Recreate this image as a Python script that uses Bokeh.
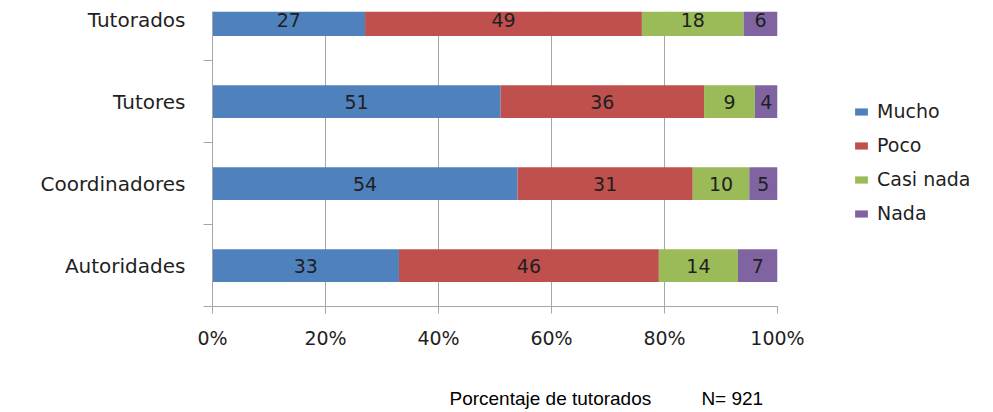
import numpy as np
from bokeh.plotting import figure
from bokeh.models import (ColumnDataSource, FixedTicker, PrintfTickFormatter, Legend,
                          LegendItem, Range1d, LinearAxis)
from bokeh.core.properties import value
from bokeh.embed import file_html
from bokeh.resources import INLINE

categories = ["Tutorados", "Tutores", "Coordinadores", "Autoridades"]
series_names = ["Mucho", "Poco", "Casi nada", "Nada"]
mucho = [27, 51, 54, 33]
poco = [49, 36, 31, 46]
casi_nada = [18, 9, 10, 14]
nada = [6, 4, 5, 7]
x_ticks = [0, 20, 40, 60, 80, 100]
x_title = "Porcentaje de tutorados"
n_note = "N= 921"

colors = ["#4F81BD", "#C0504D", "#9BBB59", "#8064A2"]
GRID = "#a6a6a6"
TXT = "#1f1f1f"

values = np.array([mucho, poco, casi_nada, nada], dtype=float)
ypos = np.arange(len(categories))[::-1].astype(float)
lefts = np.vstack([np.zeros(len(categories)), np.cumsum(values, axis=0)[:-1]])
rights = lefts + values

W, H = 993, 412
p = figure(frame_width=565, frame_height=295, output_backend="svg", toolbar_location=None,
           x_range=Range1d(0, 100), y_range=Range1d(-0.5, 3.1),
           min_border_left=212, min_border_right=W - 777, min_border_top=11,
           min_border_bottom=H - 306)
p.outline_line_color = None
p.background_fill_color = "white"

renderers = []
for i, name in enumerate(series_names):
    src = ColumnDataSource(dict(y=ypos, left=lefts[i], right=rights[i],
                                mid=(lefts[i] + rights[i]) / 2,
                                lab=[str(int(v)) for v in values[i]]))
    r = p.hbar(y="y", left="left", right="right", height=0.4, source=src,
               fill_color=colors[i], line_color=None)
    renderers.append(r)
    p.text(x="mid", y="y", text="lab", source=src, text_align="center",
           text_baseline="middle", text_font=value("DejaVu Sans"),
           text_font_size="19px", text_color=TXT)

# x axis
xa = p.xaxis[0]
xa.ticker = FixedTicker(ticks=x_ticks)
xa.formatter = PrintfTickFormatter(format="%d%%")
xa.axis_line_color = GRID
xa.major_tick_line_color = GRID
xa.major_tick_out = 7
xa.major_tick_in = 0
xa.minor_tick_line_color = None
xa.major_label_text_font = "DejaVu Sans"
xa.major_label_text_font_size = "19px"
xa.major_label_text_color = TXT
xa.major_label_standoff = 13

# bottom note as a label-only axis
note_pos = {59.8: x_title, 92.0: n_note}
na = LinearAxis(ticker=FixedTicker(ticks=list(note_pos.keys())),
                major_label_overrides=note_pos,
                axis_line_color=None, major_tick_line_color=None,
                minor_tick_line_color=None, major_tick_out=0, major_tick_in=0,
                major_label_standoff=36,
                major_label_text_font="Liberation Sans",
                major_label_text_font_size="19px", major_label_text_color="black")
p.add_layout(na, "below")

# y axis
ya = p.yaxis[0]
ya.ticker = FixedTicker(ticks=list(ypos), minor_ticks=list(ypos - 0.5))
ya.major_label_overrides = {float(y): c for y, c in zip(ypos, categories)}
ya.axis_line_color = GRID
ya.major_tick_line_color = None
ya.major_tick_out = 0
ya.major_tick_in = 0
ya.minor_tick_line_color = GRID
ya.minor_tick_out = 9
ya.minor_tick_in = 0
ya.major_label_text_font = "DejaVu Sans"
ya.major_label_text_font_size = "20px"
ya.major_label_text_color = TXT
ya.major_label_standoff = 18

p.xgrid.ticker = FixedTicker(ticks=x_ticks)
p.xgrid.grid_line_color = GRID
p.ygrid.grid_line_color = None

legend = Legend(items=[LegendItem(label=n, renderers=[r]) for n, r in zip(series_names, renderers)],
                location=(76, 82), glyph_width=16, glyph_height=9, label_standoff=8,
                label_height=22, spacing=12, padding=0, margin=0,
                border_line_color=None, background_fill_alpha=0,
                label_text_font="DejaVu Sans", label_text_font_size="19px",
                label_text_color=TXT)
p.add_layout(legend, "right")

open("out.html", "w").write(file_html(p, INLINE))
